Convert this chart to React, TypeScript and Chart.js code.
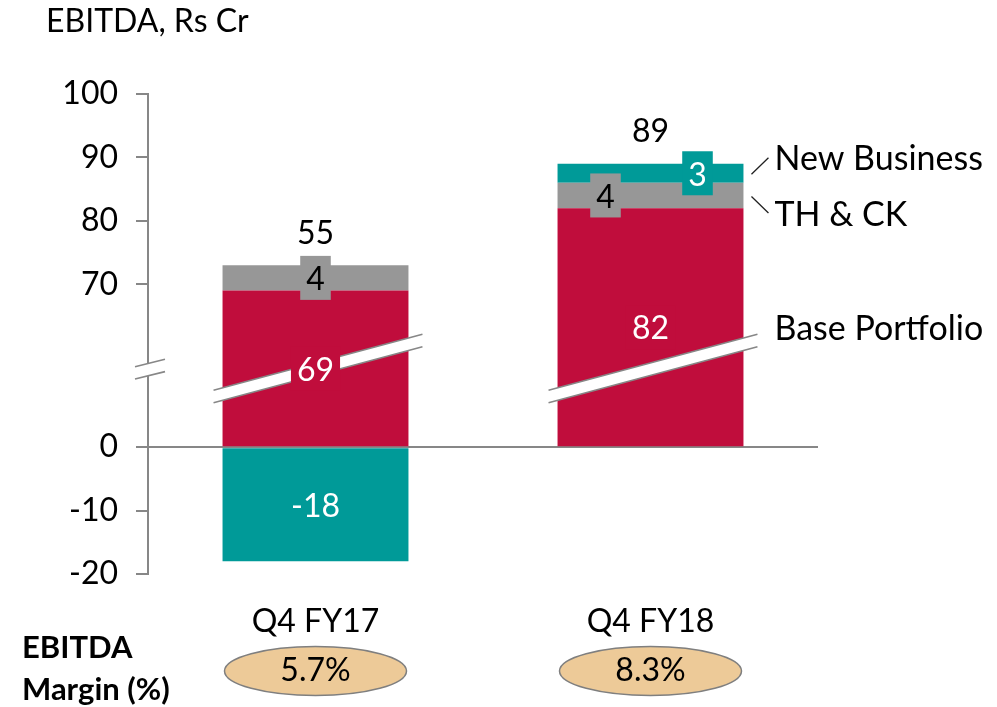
import React, { useEffect, useRef } from 'react';
import { Chart, registerables } from 'chart.js';

Chart.register(...registerables);

// ---- data ----
const CATEGORIES = ['Q4 FY17', 'Q4 FY18'];
const SERIES_NAMES = ['Base Portfolio', 'TH & CK', 'New Business'];
const BASE_PORTFOLIO = [69, 82];
const TH_CK = [4, 4];
const NEW_BUSINESS = [-18, 3];
const EBITDA_MARGIN = ['5.7%', '8.3%'];
const Y_TICKS = [-20, -10, 0, 70, 80, 90, 100];

// The value axis is broken between 0 and 70: this much is cut out of it.
const AXIS_GAP = 44.3;
// Where the break marks sit, in axis units after the cut.
const BREAK_AT = 12.3;

// ---- style ----
const FONT = 'Lato, "Open Sans", sans-serif';
const RED = '#C00D3C';
const GRAY = '#979797';
const TEAL = '#009A98';
const AXIS = '#878787';
const ELLIPSE_FILL = '#EDCA98';
const ELLIPSE_LINE = '#7F7F7F';

// Sideways nudges (px) for segment labels, per series and category.
const LABEL_NUDGE = [
  [0, 0],
  [0, -45],
  [0, 47],
];

const toAxis = (v: number) => (v > 0 ? v - AXIS_GAP : v);

function drawBreak(
  ctx: CanvasRenderingContext2D,
  x0: number,
  x1: number,
  xc: number,
  yc: number,
  slope: number,
  half: number
) {
  const yu = (xx: number) => yc - half + slope * (xx - xc);
  const yl = (xx: number) => yc + half + slope * (xx - xc);
  ctx.beginPath();
  ctx.moveTo(x0, yu(x0));
  ctx.lineTo(x1, yu(x1));
  ctx.lineTo(x1, yl(x1));
  ctx.lineTo(x0, yl(x0));
  ctx.closePath();
  ctx.fillStyle = '#fff';
  ctx.fill();
  ctx.strokeStyle = AXIS;
  ctx.lineWidth = 1.6;
  ctx.beginPath();
  ctx.moveTo(x0, yu(x0));
  ctx.lineTo(x1, yu(x1));
  ctx.moveTo(x0, yl(x0));
  ctx.lineTo(x1, yl(x1));
  ctx.stroke();
}

const overlay = {
  id: 'overlay',
  afterDraw(chart: any) {
    const { ctx, chartArea, scales } = chart;
    const y = scales.y;
    const x = scales.x;
    const metas = [0, 1, 2].map((i) => chart.getDatasetMeta(i));
    const yBreak = y.getPixelForValue(BREAK_AT);
    const series = [BASE_PORTFOLIO, TH_CK, NEW_BUSINESS];
    const colors = [RED, GRAY, TEAL];
    const textColors = ['#fff', '#000', '#fff'];

    ctx.save();

    // break marks on the value axis
    drawBreak(ctx, chartArea.left - 13, chartArea.left + 17, chartArea.left + 2, yBreak, -0.247, 6.15);

    // break bands across the base bars
    metas[0].data.forEach((bar: any) => {
      const { x: bx, width } = bar.getProps(['x', 'width'], true);
      drawBreak(ctx, bx - width / 2 - 9, bx + width / 2 + 14, bx, yBreak, -0.268, 6.2);
    });

    ctx.font = `32px ${FONT}`;
    ctx.textAlign = 'center';
    ctx.textBaseline = 'middle';

    // segment labels, each on a small box of the segment colour
    metas.forEach((meta: any, si: number) => {
      meta.data.forEach((bar: any, ci: number) => {
        const { x: bx, y: by, base } = bar.getProps(['x', 'y', 'base'], true);
        const label = String(series[si][ci]);
        const cx = bx + LABEL_NUDGE[si][ci];
        const cy = (by + base) / 2;
        const w = ctx.measureText(label).width + 12;
        const h = 44;
        ctx.fillStyle = colors[si];
        ctx.fillRect(cx - w / 2, cy - h / 2, w, h);
        ctx.fillStyle = textColors[si];
        ctx.fillText(label, cx, cy + 2);
      });
    });

    // totals above the stacks
    CATEGORIES.forEach((_c, ci) => {
      const total = BASE_PORTFOLIO[ci] + TH_CK[ci] + NEW_BUSINESS[ci];
      let top = Infinity;
      metas.forEach((meta: any) => {
        const { y: by, base } = meta.data[ci].getProps(['y', 'base'], true);
        top = Math.min(top, by, base);
      });
      ctx.fillStyle = '#000';
      ctx.fillText(String(total), x.getPixelForValue(ci), top - 32);
    });

    // series names beside the last stack
    const last = CATEGORIES.length - 1;
    const seg = metas.map((meta: any) => meta.data[last].getProps(['x', 'y', 'base', 'width'], true));
    const right = seg[0].x + seg[0].width / 2;
    const mid = (s: any) => (s.y + s.base) / 2;
    ctx.font = `34px ${FONT}`;
    ctx.textAlign = 'left';
    ctx.fillStyle = '#000';
    ctx.fillText(SERIES_NAMES[2], right + 31, mid(seg[2]) - 14);
    ctx.fillText(SERIES_NAMES[1], right + 31, mid(seg[1]) + 20);
    ctx.fillText(SERIES_NAMES[0], right + 31, mid(seg[0]) + 2);
    ctx.strokeStyle = '#222';
    ctx.lineWidth = 1.3;
    ctx.beginPath();
    ctx.moveTo(right + 8, mid(seg[2]) + 1);
    ctx.lineTo(right + 25, mid(seg[2]) - 15.5);
    ctx.moveTo(right + 8, mid(seg[1]) + 1);
    ctx.lineTo(right + 25, mid(seg[1]) + 17.5);
    ctx.stroke();

    // heading
    ctx.font = `32px ${FONT}`;
    ctx.fillText('EBITDA, Rs Cr', 46, 22);

    // margin row
    ctx.font = `bold 31px ${FONT}`;
    ctx.fillText('EBITDA', 22, 648);
    ctx.fillText('Margin (%)', 22, 690);

    ctx.font = `32px ${FONT}`;
    ctx.textAlign = 'center';
    EBITDA_MARGIN.forEach((m, ci) => {
      const cx = x.getPixelForValue(ci);
      ctx.beginPath();
      ctx.ellipse(cx, 671, 91, 24.5, 0, 0, Math.PI * 2);
      ctx.fillStyle = ELLIPSE_FILL;
      ctx.fill();
      ctx.strokeStyle = ELLIPSE_LINE;
      ctx.lineWidth = 1.5;
      ctx.stroke();
      ctx.fillStyle = '#000';
      ctx.fillText(m, cx, 671);
    });

    ctx.restore();
  },
};

export default function App() {
  const ref = useRef<HTMLCanvasElement>(null);

  useEffect(() => {
    let chart: Chart | null = null;
    let cancelled = false;

    const build = () => {
      if (cancelled || !ref.current) return;
      const common = { barPercentage: 0.555, categoryPercentage: 1, borderWidth: 0, stack: 'ebitda' };
      chart = new Chart(ref.current, {
        type: 'bar',
        data: {
          labels: CATEGORIES,
          datasets: [
            { label: SERIES_NAMES[0], data: BASE_PORTFOLIO.map(toAxis), backgroundColor: RED, ...common },
            { label: SERIES_NAMES[1], data: TH_CK, backgroundColor: GRAY, ...common },
            { label: SERIES_NAMES[2], data: NEW_BUSINESS, backgroundColor: TEAL, ...common },
          ],
        },
        options: {
          responsive: false,
          animation: false,
          devicePixelRatio: 1,
          layout: { padding: { top: 94, right: 179, bottom: 0, left: 0 } },
          plugins: {
            legend: { display: false },
            tooltip: { enabled: false },
            title: { display: false },
          },
          scales: {
            x: {
              stacked: true,
              grid: { display: false, drawTicks: false },
              border: { display: false },
              ticks: { font: { family: FONT, size: 32 }, color: '#000', padding: 28 },
              afterFit: (s: any) => {
                s.height = 133;
              },
            },
            y: {
              stacked: true,
              min: -20,
              max: toAxis(100),
              z: 1,
              afterBuildTicks: (s: any) => {
                s.ticks = Y_TICKS.map((v) => ({ value: toAxis(v) }));
              },
              ticks: {
                autoSkip: false,
                font: { family: FONT, size: 32 },
                color: '#000',
                padding: 18,
                callback: (_v: any, i: number) => String(Y_TICKS[i]),
              },
              grid: {
                drawOnChartArea: true,
                color: (c: any) => (c.tick && c.tick.value === 0 ? AXIS : 'rgba(0,0,0,0)'),
                tickColor: AXIS,
                lineWidth: 2,
                tickWidth: 2,
                tickLength: 12,
              },
              border: { display: true, color: AXIS, width: 2 },
              afterFit: (s: any) => {
                s.width = 148;
              },
            },
          },
        },
        plugins: [overlay],
      } as any);
    };

    Promise.all([
      document.fonts.load(`32px Lato`),
      document.fonts.load(`bold 31px Lato`),
    ]).then(build, build);

    return () => {
      cancelled = true;
      if (chart) chart.destroy();
    };
  }, []);

  return (
    <div style={{ position: 'absolute', left: 0, top: 0, width: 997, height: 707, background: '#fff' }}>
      <canvas ref={ref} width={997} height={707} style={{ display: 'block', width: 997, height: 707 }} />
    </div>
  );
}
